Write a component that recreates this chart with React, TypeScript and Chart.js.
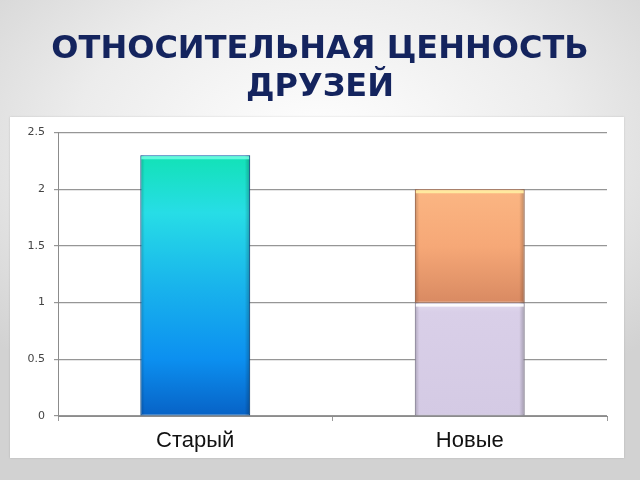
import { useEffect, useRef } from "react"
import { Chart, registerables } from "chart.js"

Chart.register(...registerables)

// Data
const categories = ["Старый", "Новые"]
const oldFriends = [2.3, null]
const newFriendsLower = [null, 1]
const newFriendsUpper = [null, 1]
const yMin = 0
const yMax = 2.5
const yStep = 0.5
const titleLines = ["ОТНОСИТЕЛЬНАЯ ЦЕННОСТЬ", "ДРУЗЕЙ"]

// Gradient stops per dataset (top -> bottom)
const fills: [number, string][][] = [
  [
    [0, "#12e2b6"],
    [0.22, "#27dde6"],
    [0.5, "#19b4ec"],
    [0.78, "#0c90f0"],
    [1, "#0762c6"],
  ],
  [
    [0, "#e4dcef"],
    [0.08, "#d9cfe8"],
    [1, "#d4cae4"],
  ],
  [
    [0, "#fbb683"],
    [0.5, "#f6a877"],
    [1, "#d98a62"],
  ],
]
const rims = ["rgba(120,255,230,0.8)", "rgba(255,255,255,0.9)", "rgba(255,236,160,0.95)"]
const borders = ["#0a5aa8", "#a49cb6", "#b9714c"]

const allSeries = [oldFriends, newFriendsLower, newFriendsUpper]

function stackRange(di: number, idx: number) {
  let start = 0
  for (let k = 0; k < di; k++) start += allSeries[k][idx] ?? 0
  return [start, start + (allSeries[di][idx] ?? 0)]
}

function fillFor(di: number) {
  return (ctx: any) => {
    const chart = ctx.chart
    const y = chart.scales?.y
    const stops = fills[di]
    if (!y || ctx.dataIndex == null) return stops[1][1]
    const [from, to] = stackRange(di, ctx.dataIndex)
    const p0 = y.getPixelForValue(to)
    const p1 = y.getPixelForValue(from)
    if (!isFinite(p0) || !isFinite(p1) || p0 === p1) return stops[1][1]
    const g = chart.ctx.createLinearGradient(0, p0, 0, p1)
    stops.forEach(([o, c]) => g.addColorStop(o, c))
    return g
  }
}

// soft side shading + light top rim, like the glossy office bars
const bevelPlugin = {
  id: "bevel",
  afterDatasetsDraw(chart: any) {
    const { ctx } = chart
    chart.data.datasets.forEach((ds: any, i: number) => {
      const meta = chart.getDatasetMeta(i)
      meta.data.forEach((bar: any, j: number) => {
        if (ds.data[j] == null) return
        const { x, y, base, width } = bar.getProps(["x", "y", "base", "width"], true)
        if (![x, y, base, width].every((v) => isFinite(v))) return
        const left = x - width / 2
        const h = base - y
        ctx.save()
        const side = ctx.createLinearGradient(left, 0, left + width, 0)
        side.addColorStop(0, "rgba(0,0,0,0.2)")
        side.addColorStop(0.04, "rgba(0,0,0,0)")
        side.addColorStop(0.95, "rgba(0,0,0,0)")
        side.addColorStop(1, "rgba(0,0,0,0.25)")
        ctx.fillStyle = side
        ctx.fillRect(left, y, width, h)
        ctx.fillStyle = rims[i]
        ctx.fillRect(left + 1, y + 1, width - 2, 3)
        ctx.restore()
      })
    })
  },
}

function FriendsChart() {
  const chartRef = useRef<HTMLCanvasElement>(null)
  const chartInstance = useRef<Chart | null>(null)

  useEffect(() => {
    if (!chartRef.current) return
    if (chartInstance.current) chartInstance.current.destroy()
    const ctx = chartRef.current.getContext("2d")
    if (!ctx) return

    chartInstance.current = new Chart(ctx, {
      type: "bar",
      data: {
        labels: categories,
        datasets: allSeries.map((series, i) => ({
          label: `s${i}`,
          data: series,
          backgroundColor: fillFor(i),
          borderColor: borders[i],
          borderWidth: 1,
          borderSkipped: false,
          categoryPercentage: 1,
          barPercentage: 0.4,
        })),
      },
      plugins: [bevelPlugin],
      options: {
        animation: false,
        responsive: true,
        maintainAspectRatio: false,
        layout: { padding: { left: 0, top: 15, right: 17, bottom: 0 } },
        plugins: {
          legend: { display: false },
          tooltip: { enabled: false },
        },
        scales: {
          x: {
            stacked: true,
            afterFit: (scale: any) => {
              scale.height = 42
            },
            border: { color: "#8c8c8c", width: 1 },
            grid: { drawOnChartArea: false, drawTicks: true, tickLength: 5, color: "#9a9a9a" },
            ticks: {
              padding: 7,
              color: "#111",
              font: { family: "'Liberation Sans', Arial, sans-serif", size: 22 },
            },
          },
          y: {
            stacked: true,
            min: yMin,
            max: yMax,
            afterFit: (scale: any) => {
              scale.width = 48
            },
            border: { color: "#8c8c8c", width: 1 },
            grid: { color: "#969696", lineWidth: 1.2, tickLength: 4 },
            ticks: {
              stepSize: yStep,
              padding: 9,
              color: "#444",
              font: { family: "'DejaVu Sans', Verdana, sans-serif", size: 11 },
              callback: (value: any) => String(Number(value)),
            },
          },
        },
      },
    })

    return () => {
      if (chartInstance.current) {
        chartInstance.current.destroy()
        chartInstance.current = null
      }
    }
  }, [])

  return (
    <div style={{ position: "relative", width: 614, height: 341 }}>
      <canvas ref={chartRef} />
    </div>
  )
}

export default function App() {
  return (
    <div
      style={{
        position: "fixed",
        left: 0,
        top: 0,
        width: 640,
        height: 480,
        overflow: "hidden",
        background: "radial-gradient(ellipse 70% 60% at 50% 30%, #ffffff 0%, #ececec 55%, #d2d2d2 100%)",
      }}
    >
      <div
        style={{
          position: "absolute",
          left: 0,
          top: 28,
          width: 640,
          textAlign: "center",
          fontFamily: "'DejaVu Sans', sans-serif",
          fontWeight: "bold",
          fontSize: 32,
          lineHeight: "38px",
          color: "#14245e",
        }}
      >
        {titleLines.map((line) => (
          <div key={line}>{line}</div>
        ))}
      </div>
      <div
        style={{
          position: "absolute",
          left: 10,
          top: 117,
          width: 614,
          height: 341,
          background: "#ffffff",
          boxShadow: "0 0 2px rgba(0,0,0,0.15)",
        }}
      >
        <FriendsChart />
      </div>
    </div>
  )
}
